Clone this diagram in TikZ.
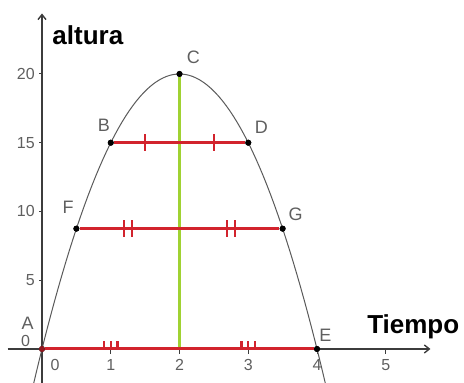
\documentclass[tikz,border=0pt]{standalone}
\usepackage{fontspec}
\setmainfont{Liberation Sans}
\usepackage{tikz}
\usetikzlibrary{arrows.meta,positioning}
\definecolor{AxisGray}{RGB}{60,60,60}
\definecolor{CurveGray}{RGB}{90,90,90}
\definecolor{LabelGray}{RGB}{95,95,95}
\definecolor{SegRed}{RGB}{210,35,45}
\definecolor{MidGreen}{RGB}{160,210,50}

\begin{document}
\begin{tikzpicture}[x=68.75pt, y=13.75pt, >={Straight Barb[length=5pt,width=8pt]},
    font=\fontsize{16}{18}\selectfont,
    pt/.style={circle, fill=black, inner sep=0pt, minimum size=6pt},
    seg/.style={SegRed, line width=3pt},
    hatch/.style={SegRed, line width=2.4pt},
    lbl/.style={text=LabelGray}]
    \useasboundingbox (-0.611,-2.473) rectangle (6.138,25.38);

    % axes
    \coordinate (xs) at (-0.5,0);
    \coordinate (xe) at (5.65,0);
    \coordinate (ys) at (0,-2.6);
    \coordinate (ye) at (0,24.4);
    \draw [->, AxisGray, line width=1.4pt] (xs) -- (xe);
    \draw [->, AxisGray, line width=1.4pt] (ys) -- (ye);
    \foreach \t in {1,...,5}
        \draw [AxisGray, line width=1pt] (\t,0) -- (\t,-0.35) node[lbl, below=2pt] (xt\t) {\t};
    \foreach \h in {5,10,15,20}
        \draw [AxisGray, line width=1pt] (0,\h) -- (-0.05,\h) node[lbl, left=0pt] (yt\h) {\h};
    \node [lbl] (xt0) at (0.19,-1.2) {0};
    \node [lbl] (yt0) at (-0.24,0.6) {0};
    \node [font=\fontsize{26}{28}\selectfont\bfseries, anchor=west] (ylab) at (0.1,22.8) {altura};
    \node [font=\fontsize{26}{28}\selectfont\bfseries] (xlab) at (5.4,1.6) {Tiempo};

    % parabola
    \begin{scope}
        \clip (-0.611,-2.473) rectangle (6.138,25.38);
        \draw [CurveGray, line width=1pt, domain=-0.14:4.14, samples=80] plot (\x, {20*\x-5*\x*\x});
    \end{scope}

    % points
    \node [pt] (A) at (0,0) {};
    \node [pt] (B) at (1,15) {};
    \node [pt] (C) at (2,20) {};
    \node [pt] (D) at (3,15) {};
    \node [pt] (E) at (4,0) {};
    \node [pt] (F) at (0.5,8.75) {};
    \node [pt] (G) at (3.5,8.75) {};
    \coordinate (M) at (2,0);

    % segments
    \draw [MidGreen, line width=3pt] (M) -- (C);
    \draw [seg] (B) -- (D);
    \draw [seg] (F) -- (G);
    \draw [seg] (A) -- (E);
    \foreach \t in {1.5,2.5}
        \draw [hatch] (\t,14.4) -- (\t,15.6);
    \foreach \t in {1.25,2.75}
        \foreach \d in {-0.06,0.06}
            \draw [hatch] (\t+\d,8.15) -- (\t+\d,9.35);
    \foreach \t in {1,3}
        \foreach \d in {-0.1,0,0.1}
            \draw [hatch] (\t+\d,0) -- (\t+\d,0.6);
    \node [pt, fill=SegRed!70!black] at (A) {};
    \foreach \p in {B,C,D,E,F,G}
        \node [pt] at (\p) {};

    % point labels
    \node [lbl, font=\fontsize{18}{20}\selectfont] (Alab) at (-0.21,1.9) {A};
    \node [lbl, font=\fontsize{18}{20}\selectfont] (Blab) at (0.9,16.3) {B};
    \node [lbl, font=\fontsize{18}{20}\selectfont] (Clab) at (2.2,21.2) {C};
    \node [lbl, font=\fontsize{18}{20}\selectfont] (Dlab) at (3.19,16.1) {D};
    \node [lbl, font=\fontsize{18}{20}\selectfont] (Elab) at (4.12,1.0) {E};
    \node [lbl, font=\fontsize{18}{20}\selectfont] (Flab) at (0.38,10.3) {F};
    \node [lbl, font=\fontsize{18}{20}\selectfont] (Glab) at (3.69,9.8) {G};
\end{tikzpicture}
\end{document}
